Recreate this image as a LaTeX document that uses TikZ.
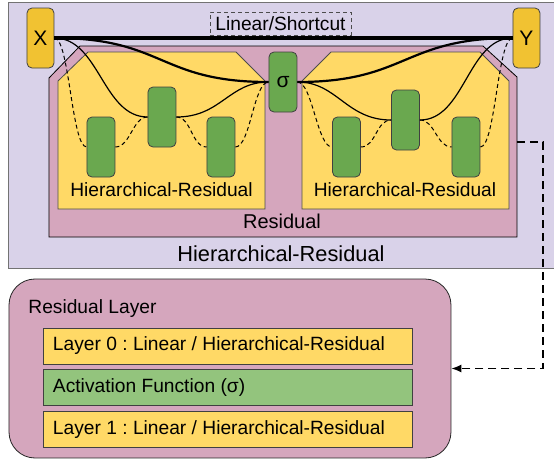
\documentclass[tikz,border=0pt]{standalone}
\usepackage{fontspec}
\setmainfont{Liberation Sans}
\frenchspacing
\usetikzlibrary{positioning,arrows.meta}
\definecolor{lavender}{HTML}{D9D2E9}
\definecolor{pinkbox}{HTML}{D5A6BD}
\definecolor{yellowbox}{HTML}{FFD966}
\definecolor{xyyellow}{HTML}{F1C232}
\definecolor{greenbox}{HTML}{6AA84F}
\definecolor{lightgreen}{HTML}{93C47D}

\begin{document}
\begin{tikzpicture}[x=0.5pt, y=-0.5pt,
    every node/.style={font=\fontsize{9.6}{11}\selectfont},
    xybox/.style={draw=black!75, fill=xyyellow, rounded corners=2.5pt, minimum width=13.5pt, minimum height=30pt, inner sep=0pt, font=\fontsize{10.5}{12}\selectfont},
    unit/.style={draw=black!75, fill=greenbox, rounded corners=2.5pt, minimum width=14pt, minimum height=30pt, inner sep=0pt, font=\fontsize{10.5}{12}\selectfont},
    layerbox/.style={draw=black!75, fill=yellowbox, text width=174.5pt, inner xsep=5pt, inner ysep=0pt, minimum height=18pt, align=flush left},
    shortcut/.style={line width=2pt},
    mainpath/.style={line width=1.1pt},
    subpath/.style={line width=0.6pt},
    skippath/.style={line width=0.5pt, dash pattern=on 2pt off 1.5pt},
    linkarrow/.style={line width=0.75pt, dash pattern=on 4pt off 2.5pt, -{Latex[length=5pt,width=4pt]}}]
    \useasboundingbox (0,0) rectangle (554,461);

    % Outer hierarchical-residual block
    \draw[fill=lavender, draw=black!55] (8,2) rectangle (570,268);

    % Residual block
    \draw[fill=pinkbox, draw=black] (49,78) -- (80,46) -- (483,46) -- (517,77) -- (517,237) -- (49,237) -- cycle;

    % Two inner hierarchical-residual blocks
    \draw[fill=yellowbox, draw=black!70] (58,81) -- (88,52) -- (236,52) -- (265,81) -- (265,209) -- (58,209) -- cycle;
    \draw[fill=yellowbox, draw=black!70] (302,81) -- (331,52) -- (480,52) -- (509,81) -- (509,209) -- (302,209) -- cycle;

    % Block labels
    \node (hrleft) at (161.5,190) {Hierarchical-Residual};
    \node (hrright) at (405,190) {Hierarchical-Residual};
    \node[font=\fontsize{10}{12}\selectfont] (residual) at (282,221) {Residual};
    \node[font=\fontsize{10.9}{13}\selectfont] (hrouter) at (281,254) {Hierarchical-Residual};

    % Input, output and activation
    \node[xybox] (X) at (40.5,38) {X};
    \node[xybox] (Y) at (526.5,38) {Y};
    \node[unit] (sigma) at (283,82) {σ};

    % Units inside the blocks
    \node[unit] (l1) at (101,147) {};
    \node[unit] (l2) at (162,117) {};
    \node[unit] (l3) at (221,147) {};
    \node[unit] (r1) at (346.5,147) {};
    \node[unit] (r2) at (405.5,120) {};
    \node[unit] (r3) at (466,147) {};

    % Shortcut
    \node[draw=black!70, dash pattern=on 2pt off 1.5pt, minimum width=70.5pt, minimum height=11.5pt, inner sep=0pt] (shortlabel) at (280.5,23.5) {Linear/Shortcut};
    \draw[shortcut] (X.east) -- (Y.west);

    % Residual paths
    \draw[mainpath] (X.east) .. controls +(110,0) and +(-110,0) .. (sigma.west);
    \draw[mainpath] (sigma.east) .. controls +(110,0) and +(-110,0) .. (Y.west);

    % Hierarchical paths
    \draw[subpath] (X.east) .. controls +(45,0) and +(-45,0) .. (l2.west);
    \draw[subpath] (l2.east) .. controls +(45,0) and +(-40,0) .. (sigma.west);
    \draw[subpath] (sigma.east) .. controls +(40,0) and +(-45,0) .. (r2.west);
    \draw[subpath] (r2.east) .. controls +(45,0) and +(-45,0) .. (Y.west);
    \foreach \a/\b in {X/l1, l1/l2, l2/l3, l3/sigma, sigma/r1, r1/r2, r2/r3, r3/Y}
        \draw[skippath] (\a.east) .. controls +(15,0) and +(-15,0) .. (\b.west);

    % Residual layer detail
    \node[draw=black!85, fill=pinkbox, rounded corners=13pt, minimum width=221pt, minimum height=89.5pt] (reslayer) at (230,368.5) {};
    \node[anchor=west, inner sep=0pt] (restitle) at (28,309) {Residual Layer};
    \node[layerbox] (layer0) at (227.5,346) {Layer 0 : Linear / Hierarchical-Residual};
    \node[layerbox, fill=lightgreen, below=2.5pt of layer0] (act) {Activation Function (σ)};
    \node[layerbox, below=2.5pt of act] (layer1) {Layer 1 : Linear / Hierarchical-Residual};

    % Link to the detail
    \coordinate (tap) at (517,142);
    \draw[linkarrow] (tap) -- ++(26,0) |- (reslayer.east);
\end{tikzpicture}
\end{document}
